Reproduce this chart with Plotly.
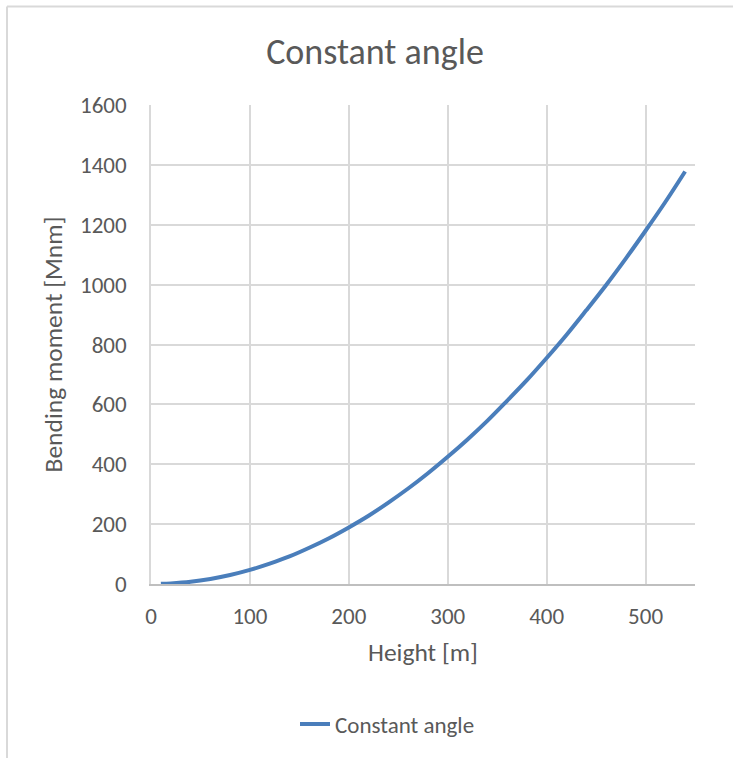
import plotly.graph_objects as go

height_m = [10, 20, 40, 60, 80, 100, 120, 140, 160, 180, 200, 220, 240, 260, 280,
            300, 320, 340, 360, 380, 400, 420, 440, 460, 480, 500, 520, 540]
moment_mnm = [0.5, 2, 7.5, 17, 30, 47, 68, 92, 121, 153, 189, 228, 272, 319, 370,
              425, 483, 545, 612, 681, 755, 832, 914, 998, 1087, 1180, 1276, 1378]
x_ticks = [0, 100, 200, 300, 400, 500]
y_ticks = [0, 200, 400, 600, 800, 1000, 1200, 1400, 1600]

FONT = "Carlito, Lato"
TXT = "#595959"

fig = go.Figure()
fig.add_trace(go.Scatter(
    x=height_m, y=moment_mnm, mode="lines", name="Constant angle",
    line=dict(color="#4a7ebb", width=4, shape="spline"),
))

W, H = 733, 758
L, R, T, B = 151, 38, 105, 174
pw, ph = W - L - R, H - T - B

def px(x):
    return (x - L) / pw

def py(y):
    return (H - B - y) / ph

fig.update_layout(
    width=W, height=H,
    margin=dict(l=L, r=R, t=T, b=B),
    paper_bgcolor="white", plot_bgcolor="white",
    font=dict(family=FONT, color=TXT),
    title=dict(text="Constant angle", xref="container", x=375 / W, xanchor="center",
               yref="container", y=1 - 51 / H, yanchor="middle",
               font=dict(size=36, color=TXT, family=FONT)),
    xaxis=dict(range=[0, 550], tickvals=x_ticks, showgrid=True,
               gridcolor="#d9d9d9", gridwidth=1.5, zeroline=False,
               showline=True, linecolor="#bfbfbf", linewidth=1.5,
               ticks="", ticklabelstandoff=11,
               tickfont=dict(size=23, color=TXT),
               title=dict(text="Height [m]", font=dict(size=25.5, color=TXT), standoff=14)),
    yaxis=dict(range=[0, 1600], tickvals=y_ticks, showgrid=True,
               gridcolor="#d9d9d9", gridwidth=1.5, zeroline=False,
               showline=True, linecolor="#d9d9d9", linewidth=1.5,
               ticks="", ticklabelstandoff=18,
               tickfont=dict(size=23, color=TXT),
               title=dict(text="Bending moment [Mnm]", font=dict(size=25.5, color=TXT), standoff=10)),
    showlegend=True,
    legend=dict(orientation="h", x=px(387.5), xanchor="center",
                y=py(724), yanchor="middle",
                font=dict(size=23, color=TXT), bgcolor="rgba(0,0,0,0)"),
    shapes=[
        dict(type="line", xref="paper", yref="paper",
             x0=px(7), x1=px(7), y0=py(6.5), y1=py(H + 5),
             line=dict(color="#d9d9d9", width=2)),
        dict(type="line", xref="paper", yref="paper",
             x0=px(7), x1=px(W + 5), y0=py(6.5), y1=py(6.5),
             line=dict(color="#d9d9d9", width=2)),
    ],
)

fig.write_html("out.html")
